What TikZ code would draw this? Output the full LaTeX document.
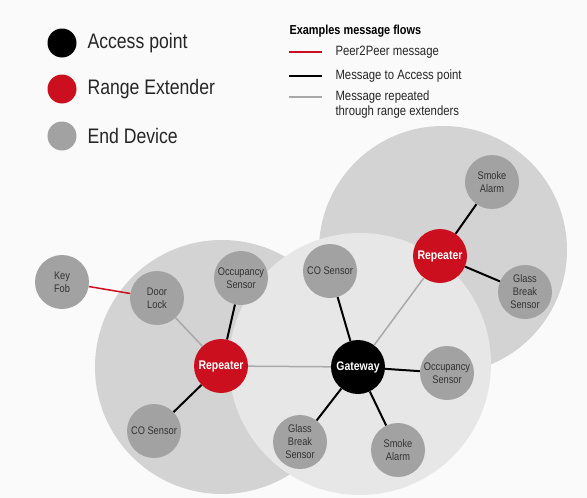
\documentclass[tikz,border=0pt]{standalone}
\usepackage{fontspec}
\setmainfont{Liberation Sans}[FakeStretch=0.84]
\usepackage{tikz}
\definecolor{repred}{HTML}{CC0F1F}
\definecolor{devgray}{HTML}{A2A2A2}
\definecolor{zonegray}{HTML}{D3D3D3}
\definecolor{zonelight}{HTML}{E7E7E7}
\definecolor{labelgray}{HTML}{333333}
\definecolor{repline}{HTML}{A9A9A9}

\begin{document}
\begin{tikzpicture}[x=1pt,y=-1pt,
  device/.style={circle,fill=devgray,minimum size=54pt,inner sep=0pt,align=center,
    text=labelgray,font=\fontsize{11}{13}\selectfont},
  repeater/.style={device,fill=repred,text=white,font=\bfseries\fontsize{12.5}{14}\selectfont},
  gateway/.style={device,fill=black,text=white,font=\bfseries\fontsize{12.5}{14}\selectfont},
  tolink/.style={black,line width=2pt},
  replink/.style={repline,line width=1.5pt},
  p2p/.style={repred,line width=1.5pt},
  legtext/.style={anchor=west,text=black!85,font=\fontsize{13.5}{15}\selectfont}]
\useasboundingbox (0,0) rectangle (587,498);
\fill[white!98!black] (0,0) rectangle (587,498);

% coverage zones
\coordinate (zoneleft) at (222,367);
\coordinate (zoneright) at (443,250);
\coordinate (zonemid) at (360,364);
\fill[zonegray] (zoneleft) circle (127pt);
\fill[zonegray] (zoneright) circle (124pt);
\fill[zonelight] (zonemid) circle (131pt);

% legend
\node[gateway,minimum size=29pt] (legap) at (62,43) {};
\node[repeater,minimum size=29pt] (legre) at (62,89) {};
\node[device,minimum size=29pt] (leged) at (62,136) {};
\node[anchor=west,font=\fontsize{21}{24}\selectfont,text=black!85] (legaptext) at (84,43) {Access point};
\node[anchor=west,font=\fontsize{21}{24}\selectfont,text=black!85] (legretext) at (84,89) {Range Extender};
\node[anchor=west,font=\fontsize{21}{24}\selectfont,text=black!85] (legedtext) at (84,136) {End Device};

\node[anchor=west,font=\bfseries\fontsize{13}{15}\selectfont] (flowtitle) at (286,31) {Examples message flows};
\draw[p2p] (289,52) -- (322,52);
\draw[tolink] (289,76) -- (322,76);
\draw[replink] (289,97) -- (322,97);
\node[legtext] (flowp2p) at (332,52) {Peer2Peer message};
\node[legtext] (flowap) at (332,76) {Message to Access point};
\node[legtext,align=left] (flowrep) at (332,105) {Message repeated\\through range extenders};

% devices
\node[device] (keyfob) at (62,282) {Key\\Fob};
\node[device] (doorlock) at (157,298) {Door\\Lock};
\node[device] (occleft) at (241,278) {Occupancy\\Sensor};
\node[repeater] (repleft) at (221,366) {Repeater};
\node[device] (coleft) at (154,431) {CO Sensor};
\node[gateway] (gw) at (358,367) {Gateway};
\node[device] (comid) at (330,271) {CO Sensor};
\node[repeater] (repright) at (440,256) {Repeater};
\node[device] (smoketop) at (492,182) {Smoke\\Alarm};
\node[device] (glassright) at (525,292) {Glass\\Break\\Sensor};
\node[device] (occmid) at (447,373) {Occupancy\\Sensor};
\node[device] (smokebot) at (398,450) {Smoke\\Alarm};
\node[device] (glassbot) at (300,442) {Glass\\Break\\Sensor};

% message flows
\draw[p2p] (keyfob) -- (doorlock);
\draw[replink] (doorlock) -- (repleft);
\draw[tolink] (occleft) -- (repleft);
\draw[tolink] (repleft) -- (coleft);
\draw[replink] (repleft) -- (gw);
\draw[tolink] (gw) -- (comid);
\draw[replink] (gw) -- (repright);
\draw[tolink] (repright) -- (smoketop);
\draw[tolink] (repright) -- (glassright);
\draw[tolink] (gw) -- (occmid);
\draw[tolink] (gw) -- (smokebot);
\draw[tolink] (gw) -- (glassbot);
\end{tikzpicture}
\end{document}
